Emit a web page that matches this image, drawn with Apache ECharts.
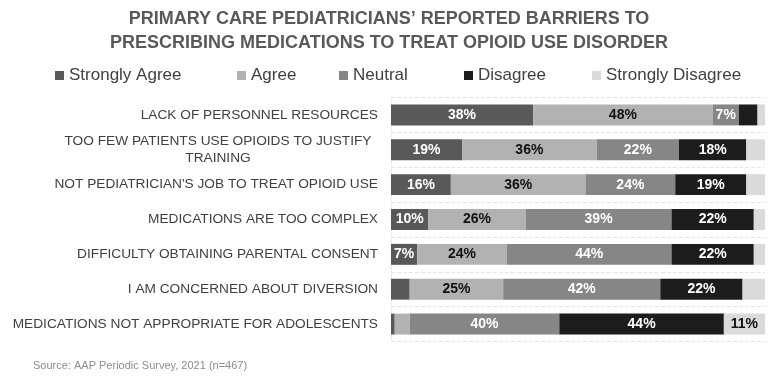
<!DOCTYPE html>
<html>
<head>
<meta charset="utf-8">
<script src="https://cdn.jsdelivr.net/npm/echarts@6/dist/echarts.min.js"></script>
<style>html,body{margin:0;padding:0;background:#fff}#c{width:778px;height:385px}</style>
</head>
<body>
<div id="c"></div>
<script>
const categories = [
  "LACK OF PERSONNEL RESOURCES",
  "TOO FEW PATIENTS USE OPIOIDS TO JUSTIFY\nTRAINING",
  "NOT PEDIATRICIAN'S JOB TO TREAT OPIOID USE",
  "MEDICATIONS ARE TOO COMPLEX",
  "DIFFICULTY OBTAINING PARENTAL CONSENT",
  "I AM CONCERNED ABOUT DIVERSION",
  "MEDICATIONS NOT APPROPRIATE FOR ADOLESCENTS"
];
const seriesNames = ["Strongly Agree", "Agree", "Neutral", "Disagree", "Strongly Disagree"];
const stronglyAgree = [38, 19, 16, 10, 7, 5, 1];
const agree = [48, 36, 36, 26, 24, 25, 4];
const neutral = [7, 22, 24, 39, 44, 42, 40];
const disagree = [5, 18, 19, 22, 22, 22, 44];
const stronglyDisagree = [2, 5, 5, 3, 3, 6, 11];
const titleLines = ["PRIMARY CARE PEDIATRICIANS\u2019 REPORTED BARRIERS TO", "PRESCRIBING MEDICATIONS TO TREAT OPIOID USE DISORDER"];
const sourceNote = "Source: AAP Periodic Survey, 2021 (n=467)";

const colors = ["#595959", "#b2b2b2", "#868686", "#1c1c1c", "#dadada"];
const labelColors = ["#ffffff", "#111111", "#ffffff", "#ffffff", "#111111"];
const allData = [stronglyAgree, agree, neutral, disagree, stronglyDisagree];
const legendLeft = [50, 232, 334, 459, 587];

const chart = echarts.init(document.getElementById('c'), null, {renderer: 'canvas'});
const series = seriesNames.map((name, i) => ({
  name: name,
  type: 'bar',
  stack: 'total',
  barWidth: '60%',
  itemStyle: {color: colors[i]},
  label: {
    show: true,
    position: 'inside',
    color: labelColors[i],
    fontFamily: 'Liberation Sans',
    fontWeight: 'bold',
    fontSize: 14,
    formatter: p => p.value >= 7 ? p.value + '%' : ''
  },
  emphasis: {disabled: true},
  data: allData[i]
}));

chart.setOption({
  animation: false,
  title: {
    text: titleLines.join('\n'),
    left: 'center',
    top: 2,
    textStyle: {fontFamily: 'Liberation Sans', fontWeight: 'bold', fontSize: 18, lineHeight: 24, color: '#595959'}
  },
  legend: seriesNames.map((n, i) => ({
    data: [n],
    left: legendLeft[i],
    top: 62,
    itemWidth: 9,
    itemHeight: 9,
    itemGap: 6,
    icon: 'rect',
    textStyle: {fontFamily: 'Liberation Sans', fontSize: 17, color: '#404040'},
    selectedMode: false
  })),
  grid: {left: 391, right: 13, top: 97.5, bottom: 43.5, containLabel: false},
  xAxis: {
    type: 'value', min: 0, max: 100, show: false
  },
  yAxis: {
    type: 'category',
    inverse: true,
    data: categories,
    axisLine: {show: true, lineStyle: {color: '#ececec'}},
    axisTick: {show: false},
    splitLine: {show: true, lineStyle: {color: '#e6e6e6', type: 'dashed'}},
    axisLabel: {
      margin: 13,
      fontFamily: 'Liberation Sans',
      fontSize: 13.7,
      color: '#404040',
      formatter: v => v.indexOf('\n') >= 0 ? v.split('\n').map(s => '{c|' + s + '}').join('\n') : v,
      rich: {c: {width: 320, align: 'center', fontFamily: 'Liberation Sans', fontSize: 13.7, color: '#404040', lineHeight: 17}}
    }
  },
  graphic: [{
    type: 'text', left: 33, top: 360,
    style: {text: sourceNote, fontFamily: 'Liberation Sans', fontSize: 11, fill: '#8c8c8c'}
  }],
  series: series
});
</script>
</body>
</html>
